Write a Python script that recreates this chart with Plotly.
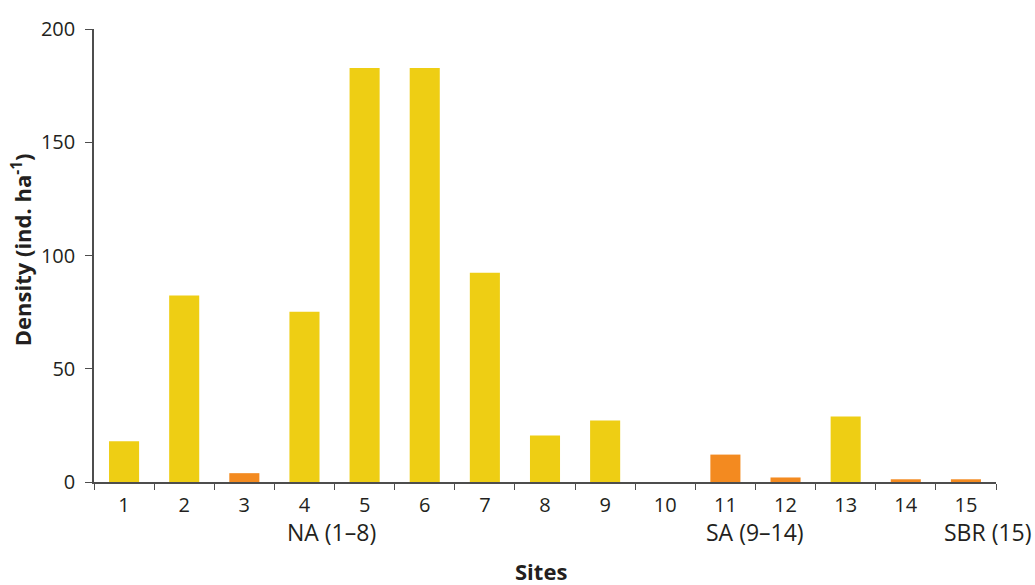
import plotly.graph_objects as go

sites = [str(i) for i in range(1, 16)]
density = [18, 82.3, 3.9, 75.2, 182.8, 182.8, 92.4, 20.5, 27.1, 0, 12.1, 2.0, 28.9, 1.2, 1.2]
highlight = [False, False, True, False, False, False, False, False, False, False, True, True, False, True, True]
group_labels = ["NA (1–8)", "SA (9–14)", "SBR (15)"]
group_centers = [3.5, 10.5, 14]
y_ticks = [0, 50, 100, 150, 200]

YELLOW = "#EECE14"
ORANGE = "#F38A20"
TXT = "#231F20"
FONT = "Open Sans"

colors = [ORANGE if h else YELLOW for h in highlight]

fig = go.Figure(go.Bar(x=sites, y=density, marker=dict(color=colors, line=dict(width=0)), width=0.5))

shifts = [-3, 0, 22]
for lab, c, s in zip(group_labels, group_centers, shifts):
    fig.add_annotation(x=c, y=0, xref="x", yref="paper", yshift=-50, xshift=s,
                       text=lab, showarrow=False, yanchor="middle", xanchor="center",
                       font=dict(family=FONT, size=23, color=TXT))

# axis titles as annotations for exact placement
fig.add_annotation(x=0.4956, y=0, xref="paper", yref="paper", yshift=-72, showarrow=False,
                   text="<b>Sites</b>", xanchor="center", yanchor="top",
                   font=dict(family=FONT, size=22, color=TXT))
fig.add_annotation(x=0, y=0.5116, xref="paper", yref="paper", xshift=-73, showarrow=False,
                   text="<b>Density (ind. ha<sup>-1</sup>)</b>", textangle=-90,
                   xanchor="center", yanchor="middle",
                   font=dict(family=FONT, size=22, color=TXT))

fig.update_layout(
    width=1035, height=585,
    margin=dict(l=94, r=39, t=29, b=102.5, autoexpand=False),
    plot_bgcolor="white", paper_bgcolor="white",
    showlegend=False,
    font=dict(family=FONT, size=20, color=TXT),
    xaxis=dict(type="category", range=[-0.5, 14.5], showline=True, linecolor="#4d4d4d", linewidth=1.5,
               ticks="outside", tickson="boundaries", ticklen=6, tickcolor="#4d4d4d",
               showgrid=False, ticklabelstandoff=4, automargin=False),
    yaxis=dict(range=[0, 200], tickvals=y_ticks, showline=True, linecolor="#4d4d4d", linewidth=1.5,
               ticks="outside", ticklen=7, tickcolor="#4d4d4d", showgrid=False, zeroline=False,
               ticklabelstandoff=6, automargin=False),
)

fig.write_html("out.html", config={"displayModeBar": False},
               post_script="document.body.style.margin='0';document.body.style.overflow='hidden';")
